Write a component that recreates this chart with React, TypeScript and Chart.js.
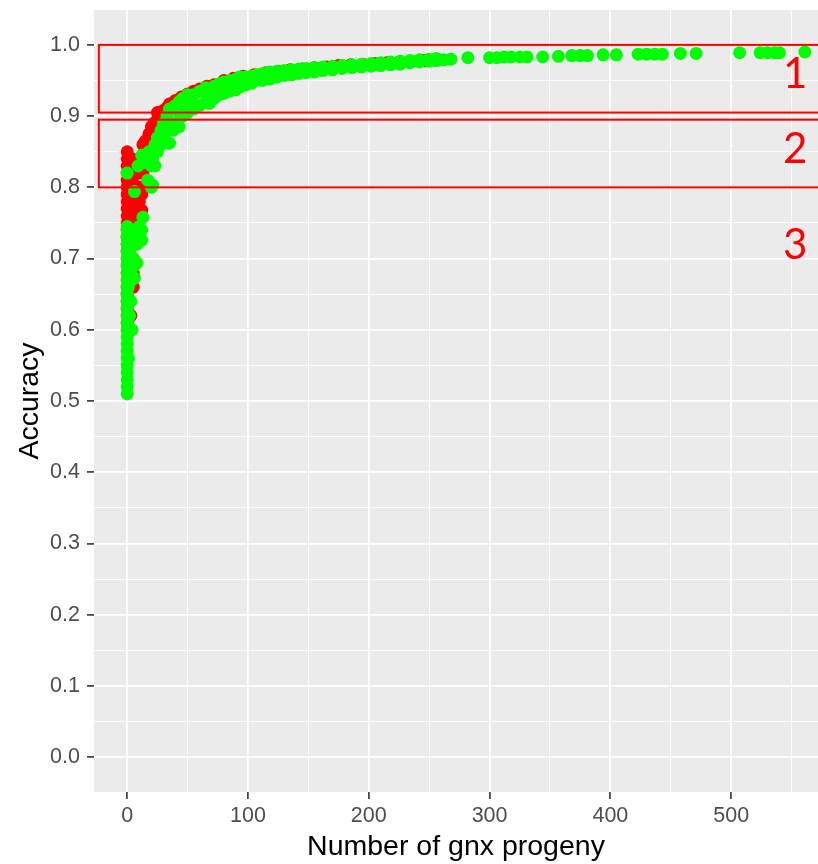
import React, { useEffect, useRef } from 'react';
import { Chart, registerables } from 'chart.js';

Chart.register(...registerables);

// ---- data (x = number of gnx progeny, y = accuracy) ----
const greenPoints: [number, number][] = [
  // vertical strip at 0 progeny
  [0, 0.51], [0, 0.52], [0, 0.53], [0, 0.54], [0, 0.55], [0, 0.56], [0, 0.57], [0, 0.58],
  [0, 0.59], [0, 0.6], [0, 0.61], [0, 0.62], [0, 0.63], [0, 0.64], [0, 0.65], [0, 0.66],
  [0, 0.67], [0, 0.68], [0, 0.69], [0, 0.7], [0, 0.71], [0, 0.72], [0, 0.73], [0, 0.74],
  [0, 0.745],
  [1, 0.56], [1, 0.6], [1, 0.66], [1, 0.72],
  [2, 0.62], [2, 0.68], [2, 0.71], [2, 0.74],
  [3, 0.64], [3, 0.7], [3, 0.73],
  [4, 0.6], [4, 0.67], [4, 0.72],
  [5, 0.7], [5, 0.74],
  [6, 0.673], [6, 0.69], [6, 0.794],
  [8, 0.694], [8, 0.72], [8, 0.74],
  [10, 0.73], [10, 0.745],
  [12, 0.726], [12, 0.74],
  [13, 0.758],
  [0, 0.82],
  [9, 0.83], [12, 0.845], [15, 0.835], [18, 0.85],
  [17, 0.81],
  [20, 0.8], [20, 0.83], [21, 0.803], [21, 0.84],
  [23, 0.83], [23, 0.86], [25, 0.85], [25, 0.87],
  [28, 0.86], [28, 0.88], [30, 0.87], [30, 0.89],
  [33, 0.88], [33, 0.9], [35, 0.862], [35, 0.89], [35, 0.91],
  [38, 0.88], [38, 0.91], [40, 0.89], [40, 0.915],
  [43, 0.885], [43, 0.905], [43, 0.92], [46, 0.9], [46, 0.925],
  [50, 0.905], [50, 0.92], [50, 0.93], [52, 0.909],
  [55, 0.91], [55, 0.93], [60, 0.915], [60, 0.935],
  [65, 0.92], [65, 0.94], [68, 0.918], [68, 0.935],
  [72, 0.925], [72, 0.942], [76, 0.93], [76, 0.945],
  [80, 0.932], [80, 0.948], [85, 0.935], [85, 0.95],
  [90, 0.937], [90, 0.952], [93, 0.941], [93, 0.955],
  [98, 0.944], [98, 0.955], [103, 0.946], [103, 0.956],
  [107, 0.951], [107, 0.958], [112, 0.95], [112, 0.96],
  [118, 0.952], [118, 0.962], [124, 0.955], [124, 0.963],
  [130, 0.957], [130, 0.964], [136, 0.958], [136, 0.965],
  [142, 0.96], [142, 0.966], [148, 0.961], [148, 0.967],
  [155, 0.962], [155, 0.968], [162, 0.964], [162, 0.969],
  [170, 0.965], [170, 0.97], [178, 0.967], [178, 0.971],
  [186, 0.968], [186, 0.972], [194, 0.969], [194, 0.973],
  [202, 0.97], [202, 0.974], [210, 0.971], [210, 0.975],
  [218, 0.972], [218, 0.976], [226, 0.973], [226, 0.977],
  [234, 0.975], [234, 0.978], [242, 0.976], [242, 0.979],
  [250, 0.977], [250, 0.98], [256, 0.978], [256, 0.981],
  [262, 0.979], [268, 0.98], [282, 0.982],
  [300, 0.982], [306, 0.982], [312, 0.983], [318, 0.983], [325, 0.983], [331, 0.983],
  [344, 0.983], [357, 0.984], [368, 0.985], [375, 0.985], [381, 0.985],
  [394, 0.986], [405, 0.986],
  [423, 0.987], [430, 0.987], [437, 0.987], [443, 0.987],
  [458, 0.988], [471, 0.988], [507, 0.989],
  [524, 0.989], [530, 0.989], [536, 0.989], [540, 0.989], [561, 0.99],
];

const redPoints: [number, number][] = [
  [0, 0.6], [0, 0.61], [0, 0.62], [0, 0.63], [0, 0.64], [0, 0.65], [0, 0.66], [0, 0.67],
  [0, 0.68], [0, 0.69], [0, 0.7], [0, 0.71], [0, 0.72], [0, 0.73], [0, 0.74], [0, 0.75],
  [0, 0.76], [0, 0.77], [0, 0.78], [0, 0.79], [0, 0.8], [0, 0.81], [0, 0.82], [0, 0.83],
  [0, 0.84], [0, 0.85],
  [3, 0.62], [3, 0.66], [5, 0.66], [5, 0.68], [5, 0.7],
  [2, 0.76], [2, 0.78], [2, 0.8], [2, 0.83],
  [4, 0.75], [4, 0.77], [4, 0.79], [4, 0.81], [4, 0.84],
  [6, 0.76], [6, 0.78], [6, 0.8], [6, 0.83],
  [8, 0.75], [8, 0.77], [8, 0.79], [8, 0.82],
  [10, 0.76], [10, 0.78], [10, 0.8],
  [12, 0.768], [12, 0.79], [12, 0.82],
  [13, 0.82], [13, 0.86], [15, 0.84], [15, 0.865],
  [18, 0.86], [18, 0.875], [20, 0.87], [20, 0.885], [22, 0.89],
  [25, 0.895], [25, 0.905], [28, 0.905], [30, 0.908], [33, 0.912], [35, 0.917],
  [40, 0.922], [45, 0.927], [50, 0.931], [55, 0.935], [60, 0.938], [66, 0.942],
  [72, 0.944], [80, 0.95], [88, 0.953], [96, 0.956], [105, 0.958],
  [115, 0.961], [125, 0.963], [135, 0.965], [145, 0.966], [155, 0.968],
  [165, 0.969], [175, 0.971], [185, 0.972], [195, 0.973], [205, 0.974],
  [215, 0.975], [225, 0.976], [235, 0.977], [245, 0.978], [255, 0.979],
];

// annotation regions (accuracy bands) and their labels
const regionBands: [number, number][] = [[0.905, 1.0], [0.8, 0.895]];
const regionBoxLeft = -23.5;
const regionLabels = ['1', '2', '3'];
const regionLabelBaseline = [0.9395, 0.834, 0.7];
const regionLabelX = 553;

// axis ranges / ticks
const xRange: [number, number] = [-27.5, 571.9];
const yRange: [number, number] = [-0.049, 1.049];
const xTickValues = [0, 50, 100, 150, 200, 250, 300, 350, 400, 450, 500, 550];
const xTickLabels = ['0', '', '100', '', '200', '', '300', '', '400', '', '500', ''];
const yTickValues = [0, 0.05, 0.1, 0.15, 0.2, 0.25, 0.3, 0.35, 0.4, 0.45, 0.5, 0.55, 0.6, 0.65, 0.7, 0.75, 0.8, 0.85, 0.9, 0.95, 1.0];
const yTickLabels = ['0.0', '', '0.1', '', '0.2', '', '0.3', '', '0.4', '', '0.5', '', '0.6', '', '0.7', '', '0.8', '', '0.9', '', '1.0'];

const TICK_FONT = { family: 'Liberation Sans, Arial, sans-serif', size: 21.5 };
const TITLE_FONT = { family: 'Liberation Sans, Arial, sans-serif', size: 28.5 };

const bgPlugin = {
  id: 'panelBg',
  beforeDraw(chart: any) {
    const { ctx, chartArea: a } = chart;
    ctx.save();
    ctx.fillStyle = '#FFFFFF';
    ctx.fillRect(0, 0, chart.width, chart.height);
    ctx.fillStyle = '#EBEBEB';
    ctx.fillRect(a.left, a.top, a.right - a.left, a.bottom - a.top);
    ctx.restore();
  },
};

const regionPlugin = {
  id: 'regions',
  afterDatasetsDraw(chart: any) {
    const { ctx } = chart;
    const xs = chart.scales.x;
    const ys = chart.scales.y;
    ctx.save();
    ctx.strokeStyle = '#FF0000';
    ctx.lineWidth = 2;
    regionBands.forEach(([lo, hi]) => {
      const l = xs.getPixelForValue(regionBoxLeft);
      const r = chart.width + 10;
      const t = ys.getPixelForValue(hi);
      const b = ys.getPixelForValue(lo);
      ctx.strokeRect(l, t, r - l, b - t);
    });
    ctx.fillStyle = '#FF0000';
    ctx.font = '42px Lato, sans-serif';
    ctx.textAlign = 'center';
    ctx.textBaseline = 'alphabetic';
    regionLabels.forEach((s, i) => {
      ctx.fillText(s, xs.getPixelForValue(regionLabelX), ys.getPixelForValue(regionLabelBaseline[i]));
    });
    ctx.restore();
  },
};

const labelFor = (values: number[], labels: string[], v: number) => {
  const i = values.findIndex((t) => Math.abs(t - v) < 1e-9);
  return i >= 0 ? labels[i] : '';
};
const isMajor = (values: number[], labels: string[], v: number) => labelFor(values, labels, v) !== '';

export default function App() {
  const ref = useRef<HTMLCanvasElement | null>(null);

  useEffect(() => {
    if (!ref.current) return;
    const chart = new Chart(ref.current, {
      type: 'scatter',
      data: {
        datasets: [
          {
            label: 'green',
            data: greenPoints.map(([x, y]) => ({ x, y })),
            backgroundColor: '#00FF00',
            borderWidth: 0,
            pointRadius: 6.5,
            pointHoverRadius: 6.5,
            order: 0,
          },
          {
            label: 'red',
            data: redPoints.map(([x, y]) => ({ x, y })),
            backgroundColor: '#FF0000',
            borderWidth: 0,
            pointRadius: 6.5,
            pointHoverRadius: 6.5,
            order: 1,
          },
        ],
      },
      options: {
        responsive: false,
        animation: false,
        devicePixelRatio: 1,
        layout: { autoPadding: false, padding: { top: 10, right: 0, bottom: 0, left: 0 } },
        plugins: {
          legend: { display: false },
          tooltip: { enabled: false },
        },
        scales: {
          x: {
            type: 'linear',
            min: xRange[0],
            max: xRange[1],
            afterBuildTicks: (s: any) => { s.ticks = xTickValues.map((value) => ({ value })); },
            afterFit: (s: any) => { s.height = 72; s.paddingLeft = 0; s.paddingRight = 0; },
            border: { display: false },
            grid: {
              color: '#FFFFFF',
              lineWidth: (c: any) => (c.tick && isMajor(xTickValues, xTickLabels, c.tick.value) ? 1.8 : 0.9),
              tickLength: 7,
              tickWidth: 1.6,
              tickColor: (c: any) => (c.tick && isMajor(xTickValues, xTickLabels, c.tick.value) ? '#333333' : 'rgba(0,0,0,0)'),
            },
            ticks: {
              autoSkip: false,
              maxRotation: 0,
              padding: 4,
              color: '#4D4D4D',
              font: TICK_FONT,
              callback: (v: any) => labelFor(xTickValues, xTickLabels, Number(v)),
            },
            title: {
              display: true,
              text: 'Number of gnx progeny',
              color: '#000000',
              font: TITLE_FONT,
              padding: { top: 0, bottom: 0 },
            },
          },
          y: {
            type: 'linear',
            min: yRange[0],
            max: yRange[1],
            afterBuildTicks: (s: any) => { s.ticks = yTickValues.map((value) => ({ value })); },
            afterFit: (s: any) => { s.width = 94; s.paddingTop = 0; s.paddingBottom = 0; },
            border: { display: false },
            grid: {
              color: '#FFFFFF',
              lineWidth: (c: any) => (c.tick && isMajor(yTickValues, yTickLabels, c.tick.value) ? 1.8 : 0.9),
              tickLength: 7,
              tickWidth: 1.6,
              tickColor: (c: any) => (c.tick && isMajor(yTickValues, yTickLabels, c.tick.value) ? '#333333' : 'rgba(0,0,0,0)'),
            },
            ticks: {
              autoSkip: false,
              padding: 7,
              color: '#4D4D4D',
              font: TICK_FONT,
              callback: (v: any) => labelFor(yTickValues, yTickLabels, Number(v)),
            },
            title: {
              display: true,
              text: 'Accuracy',
              color: '#000000',
              font: TITLE_FONT,
              padding: { top: 13, bottom: 0 },
            },
          },
        },
      },
      plugins: [bgPlugin, regionPlugin],
    } as any);
    return () => chart.destroy();
  }, []);

  return (
    <canvas
      ref={ref}
      width={818}
      height={864}
      style={{ position: 'absolute', left: 0, top: 0, width: 818, height: 864 }}
    />
  );
}
